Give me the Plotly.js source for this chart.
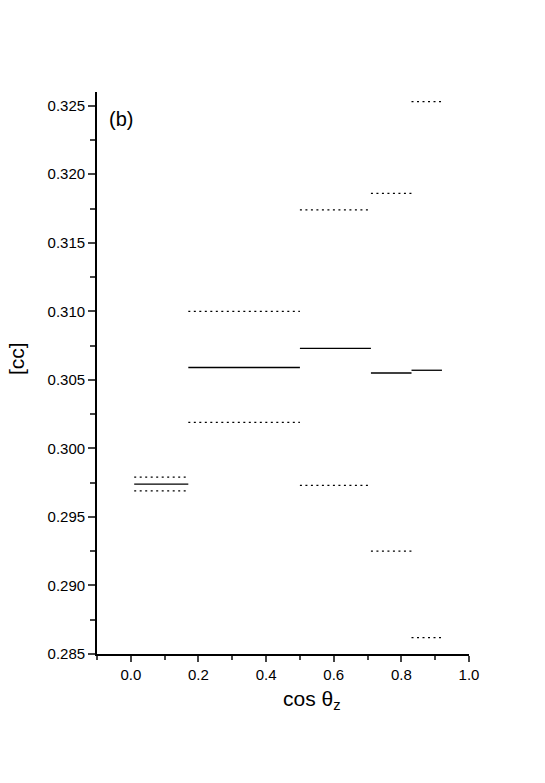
<!DOCTYPE html>
<html>
<head>
<meta charset="utf-8">
<script src="https://cdn.plot.ly/plotly-3.0.1.min.js"></script>
<style>
  body { margin: 0; background: #fff; }
  #plot { width: 545px; height: 783px; }
</style>
</head>
<body>
<div id="plot"></div>
<script>
// bin edges in cos(theta_z)
var binLo = [0.01, 0.17, 0.50, 0.71, 0.83];
var binHi = [0.17, 0.50, 0.71, 0.83, 0.92];
// central value and error band edges
var central = [0.2974, 0.3059, 0.3073, 0.3055, 0.3057];
var upper   = [0.2979, 0.3100, 0.3174, 0.3186, 0.3253];
var lower   = [0.2969, 0.3019, 0.2973, 0.2925, 0.2862];

function steps(vals) {
    var xs = [], ys = [];
    for (var i = 0; i < vals.length; i++) {
        xs.push(binLo[i], binHi[i], null);
        ys.push(vals[i], vals[i], null);
    }
    return {x: xs, y: ys};
}

var c = steps(central), u = steps(upper), l = steps(lower);

var trace1 = {
    x: c.x, y: c.y,
    mode: 'lines',
    line: {color: 'black', width: 1.3},
    showlegend: false
};
var trace2 = {
    x: u.x, y: u.y,
    mode: 'lines',
    line: {color: 'black', width: 1.3, dash: '2px,3.5px'},
    showlegend: false
};
var trace3 = {
    x: l.x, y: l.y,
    mode: 'lines',
    line: {color: 'black', width: 1.3, dash: '2px,3.5px'},
    showlegend: false
};

var data = [trace1, trace2, trace3];

var layout = {
    width: 545,
    height: 783,
    margin: {l: 97, r: 76, t: 92, b: 129},
    paper_bgcolor: 'white',
    plot_bgcolor: 'white',
    font: {family: 'Liberation Sans, Arial, sans-serif', color: 'black', size: 15},
    xaxis: {
        range: [-0.1, 1.0],
        tickvals: [0, 0.2, 0.4, 0.6, 0.8, 1.0],
        tickformat: '.1f',
        ticks: 'outside', ticklen: 6, tickwidth: 1.5,
        minor: {tickvals: [-0.1, 0.1, 0.3, 0.5, 0.7, 0.9], ticks: 'outside', ticklen: 4, tickwidth: 1.5},
        showline: true, linewidth: 1.8, linecolor: 'black',
        showgrid: false, zeroline: false
    },
    yaxis: {
        range: [0.285, 0.326],
        dtick: 0.005, tick0: 0.285,
        tickformat: '.3f',
        ticks: 'outside', ticklen: 7, tickwidth: 1.5,
        minor: {dtick: 0.0025, ticks: 'outside', ticklen: 5, tickwidth: 1.5},
        showline: true, linewidth: 1.8, linecolor: 'black',
        showgrid: false, zeroline: false
    },
    annotations: [{
        text: '(b)', xref: 'paper', yref: 'paper',
        x: 0.028, y: 0.975, xanchor: 'left', yanchor: 'top',
        showarrow: false, font: {size: 20}
    }, {
        text: 'cos θ<sub>z</sub>', xref: 'paper', yref: 'paper',
        x: 0.495, y: -0.055, xanchor: 'left', yanchor: 'top',
        showarrow: false, font: {size: 21}
    }, {
        text: '[cc]', xref: 'paper', yref: 'paper', textangle: -90,
        x: -0.215, y: 0.525, xanchor: 'center', yanchor: 'middle',
        showarrow: false, font: {size: 21}
    }]
};

Plotly.newPlot('plot', data, layout, {displayModeBar: false});
</script>
</body>
</html>
